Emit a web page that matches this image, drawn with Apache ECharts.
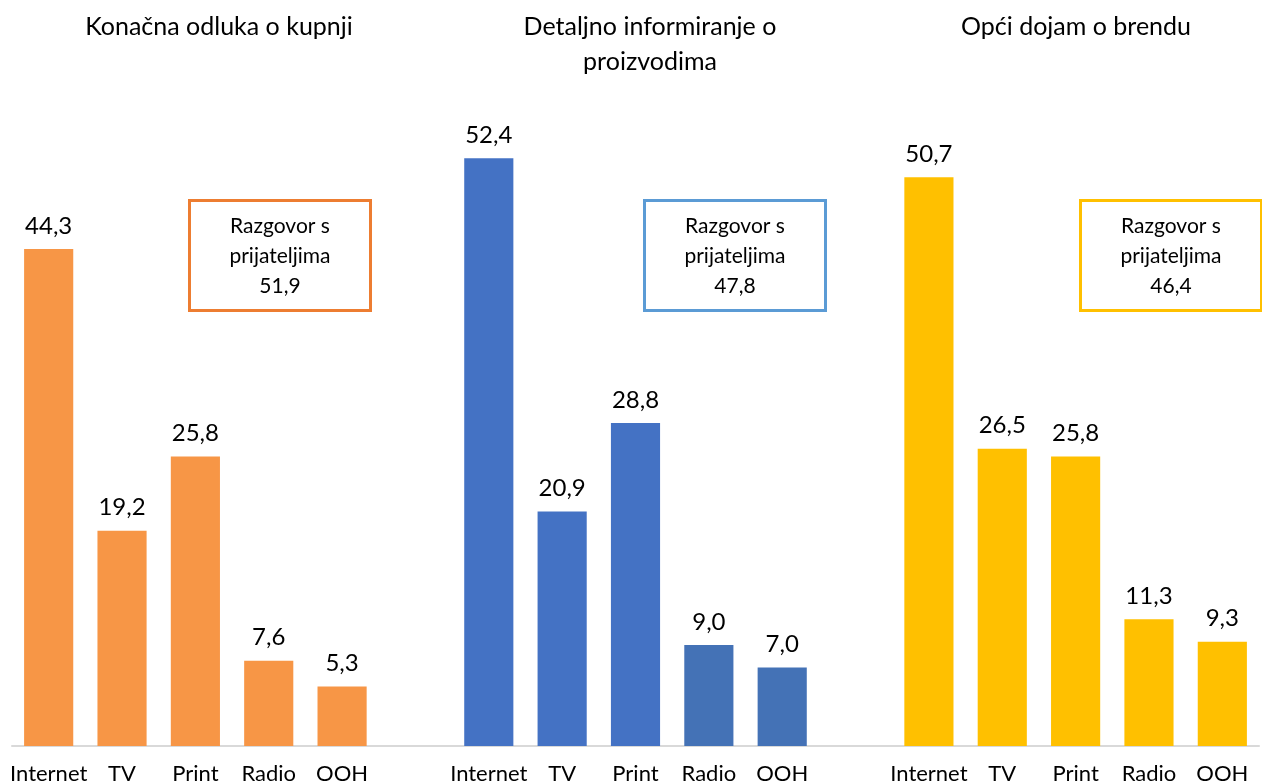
<!DOCTYPE html>
<html><head><meta charset="utf-8">
<script src="https://cdn.jsdelivr.net/npm/echarts@6/dist/echarts.min.js"></script>
<style>html,body{margin:0;padding:0;background:#fff}#c{width:1262px;height:781px}</style>
</head><body><div id="c"></div>
<script>
const categories = ['Internet','TV','Print','Radio','OOH'];
const groupTitles = ['Konačna odluka o kupnji','Detaljno informiranje o\nproizvodima','Opći dojam o brendu'];
const purchaseValues = [44.3, 19.2, 25.8, 7.6, 5.3];
const infoValues = [52.4, 20.9, 28.8, 9.0, 7.0];
const brandValues = [50.7, 26.5, 25.8, 11.3, 9.3];
const boxLabel = 'Razgovor s\nprijateljima';
const friendsValues = [51.9, 47.8, 46.4];

const FONT = 'Lato, "Noto Sans", sans-serif';
const groupColors = [
  ['#F79646','#F79646','#F79646','#F79646','#F79646'],
  ['#4472C4','#4472C4','#4472C4','#4472B6','#4472B6'],
  ['#FFC000','#FFC000','#FFC000','#FFC000','#FFC000']
];
const boxColors = ['#ED7D31','#5B9BD5','#FFC000'];
const groups = [purchaseValues, infoValues, brandValues];

const xCats = [];
const data = [];
groups.forEach((vals, gi) => {
  if (gi > 0) { xCats.push(' '); data.push('-'); }
  vals.forEach((v, i) => {
    xCats.push(categories[i]);
    data.push({value: v, itemStyle: {color: groupColors[gi][i]}});
  });
});

const fmt = v => v.toFixed(1).replace('.', ',');

const titleCenters = [219, 650, 1076];
const boxes = [[188,199],[643,199],[1079,199]];
const graphic = [];
groupTitles.forEach((t, i) => {
  graphic.push({type:'text', x: titleCenters[i], y: 9.5, style:{text:t, font:'25px '+FONT, fill:'#000', align:'center', verticalAlign:'top', lineHeight:35}});
});
boxes.forEach((b, i) => {
  graphic.push({type:'rect', shape:{x:b[0]+1.5, y:b[1]+1.5, width:181, height:110}, style:{fill:'#fff', stroke:boxColors[i], lineWidth:3}});
  graphic.push({type:'text', x:b[0]+92, y:b[1]+57, style:{text: boxLabel + '\n' + fmt(friendsValues[i]), font:'21px '+FONT, fill:'#000', align:'center', verticalAlign:'middle', lineHeight:30}});
});

const chart = echarts.init(document.getElementById('c'));
chart.setOption({
  animation:false,
  grid:{left:12, right:3, top:73, bottom:35, containLabel:false, outerBoundsMode:'none'},
  xAxis:{type:'category', data:xCats,
    axisLine:{lineStyle:{color:'#D9D9D9', width:2}}, axisTick:{show:false},
    axisLabel:{interval:0, color:'#000', fontSize:22, fontFamily:FONT, margin:17}},
  yAxis:{type:'value', min:0, max:60, show:false, splitLine:{show:false}},
  series:[{type:'bar', data:data, barCategoryGap:'33%',
    label:{show:true, position:'top', distance:11, color:'#000', fontSize:24, fontFamily:FONT, formatter:p=>fmt(p.value)}}],
  graphic: graphic
});
</script></body></html>
